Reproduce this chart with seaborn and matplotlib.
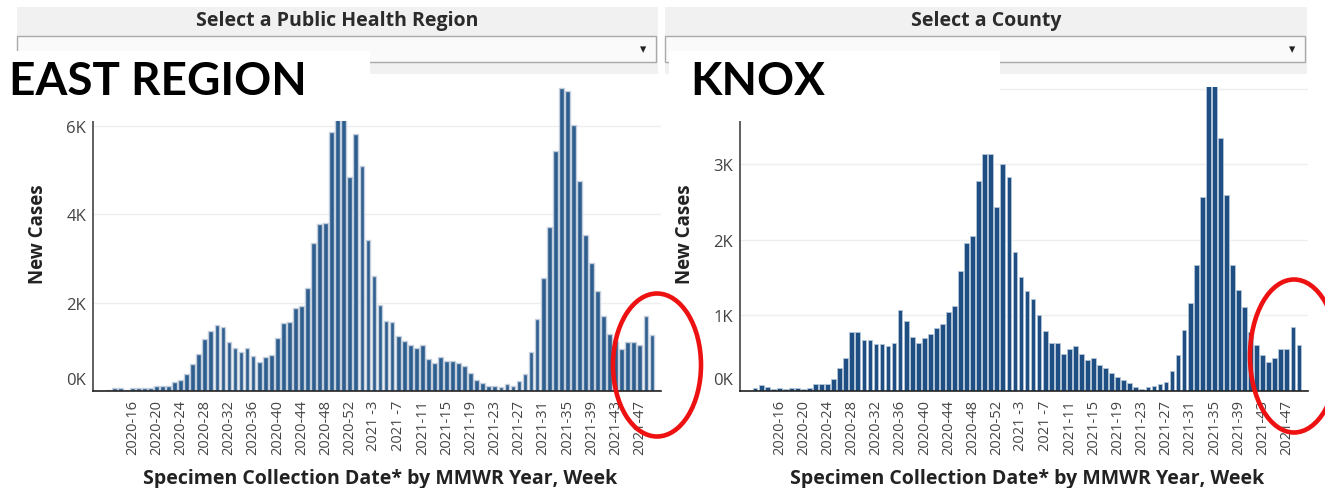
import matplotlib
matplotlib.use("Agg")
import matplotlib.pyplot as plt
import matplotlib.patches as mpatches
from matplotlib.ticker import FuncFormatter
from matplotlib.transforms import offset_copy
import pandas as pd
import seaborn as sns

# MMWR weeks 2020-10 .. 2021-50 (2020 has 53 weeks)
years = [2020] * 44 + [2021] * 50
weeks = list(range(10, 54)) + list(range(1, 51))

# weekly new cases
east_cases = [
    0, 10, 20, 70, 70, 20, 70, 70, 70, 70,
    110, 110, 110, 200, 250, 380, 600, 830, 1180, 1360,
    1500, 1450, 1100, 970, 880, 970, 800, 660, 770, 820,
    1200, 1540, 1570, 1880, 1930, 2320, 3340, 3770, 3800, 5860,
    6450, 6350, 4840, 5820, 5100, 3410, 2600, 1950, 1590, 1560,
    1240, 1120, 1030, 970, 1030, 730, 640, 780, 690, 690,
    630, 560, 400, 260, 170, 120, 120, 80, 160, 120,
    230, 390, 890, 1640, 2560, 3700, 5420, 6850, 6790, 6020,
    4740, 3520, 2890, 2260, 1700, 1300, 1140, 940, 1110, 1110,
    1030, 1700, 1270, 20,
]
knox_cases = [
    0, 0, 40, 80, 50, 20, 40, 20, 40, 40,
    20, 40, 90, 90, 90, 160, 310, 440, 780, 780,
    680, 680, 620, 620, 590, 640, 1070, 920, 720, 630,
    700, 760, 830, 890, 1040, 1130, 1590, 1960, 2050, 2780,
    3140, 3140, 2430, 3000, 2830, 1840, 1510, 1320, 1220, 1010,
    800, 630, 630, 490, 550, 590, 490, 410, 440, 350,
    310, 240, 190, 140, 100, 50, 30, 50, 70, 90,
    120, 260, 470, 810, 1160, 1660, 2570, 4350, 4300, 3350,
    2590, 1660, 1340, 1110, 780, 610, 470, 380, 430, 550,
    550, 840, 610, 10,
]

region_title = "EAST REGION"
county_title = "KNOX"


def week_label(y, w):
    return f"{y} -{w}" if w < 10 else f"{y}-{w}"


labels = [week_label(y, w) for y, w in zip(years, weeks)]
df = pd.DataFrame({"week": labels, "east": east_cases, "knox": knox_cases})

sns.set_style("white")
plt.rcParams["font.family"] = ["Open Sans", "DejaVu Sans"]

W, H = 1325, 489
fig = plt.figure(figsize=(W / 100, H / 100), dpi=100)


def px_axes(x0, y0, x1, y1, **kw):
    return fig.add_axes([x0 / W, 1 - y1 / H, (x1 - x0) / W, (y1 - y0) / H], **kw)


def draw_panel(ax, col, ymax, top_tick, step, face, edge, lw):
    sns.barplot(df, x="week", y=col, ax=ax, color=face, saturation=1,
                width=0.78, edgecolor=edge, linewidth=lw)
    ax.set_ylim(0, ymax)
    # the top gridline's label sits under the title box, so leave it unlabelled
    ax.set_yticks(range(0, top_tick + 1, step))
    for v in range(top_tick + step, int(ymax) + 1, step):
        ax.axhline(v, color="#eeeeee", lw=1, zorder=0)
    ax.yaxis.set_major_formatter(FuncFormatter(lambda v, _: f"{v / 1000:.0f}K"))
    ax.grid(axis="y", color="#eeeeee", lw=1)
    ax.set_axisbelow(True)
    shown = list(range(6, len(labels), 4))
    ax.set_xticks(shown)
    ax.set_xticklabels([labels[i] for i in shown], rotation=90,
                       fontsize=10.5, color="#444444")
    ax.tick_params(axis="y", labelsize=12, colors="#444444", length=3, pad=2)
    ax.tick_params(axis="x", length=3, pad=3, colors="#444444")
    # dashboard lifts the zero label clear of the baseline
    zero = ax.yaxis.get_major_ticks()[0].label1
    zero.set_transform(offset_copy(zero.get_transform(), fig=fig, y=13, units="dots"))
    for s in ("top", "right"):
        ax.spines[s].set_visible(False)
    ax.spines["left"].set_color("#444444")
    ax.spines["bottom"].set_color("#222222")
    ax.spines["left"].set_linewidth(1.2)
    ax.spines["bottom"].set_linewidth(1.2)
    ax.set_ylabel("New Cases", fontsize=13.5, fontweight="bold", color="#222222")
    ax.yaxis.label.set_va("center")
    ax.yaxis.set_label_coords(-0.097, 0.52)
    ax.set_xlabel("Specimen Collection Date* by MMWR Year, Week",
                  fontsize=14, fontweight="bold", color="#222222")
    ax.xaxis.label.set_va("center")
    ax.xaxis.set_label_coords(0.505, -0.285)


ax1 = px_axes(93, 88, 661, 392)
draw_panel(ax1, "east", 6878, 6000, 2000, "#2d5e8e", "#c3cfdc", 1.0)
ax2 = px_axes(740, 88, 1308, 392)
draw_panel(ax2, "knox", 4021, 3000, 1000, "#1f4f82", "#b5c6d8", 0.6)

# dashboard chrome drawn on top, in pixel coordinates
ov = fig.add_axes([0, 0, 1, 1], zorder=10)
ov.set_xlim(0, W)
ov.set_ylim(H, 0)
ov.axis("off")
ov.patch.set_alpha(0)

headers = [(17, 658, "Select a Public Health Region"), (665, 1307, "Select a County")]
for x0, x1, txt in headers:
    ov.add_patch(mpatches.Rectangle((x0, 8), x1 - x0, 67, fc="#f1f1f1", ec="none"))
    ov.add_patch(mpatches.Rectangle((x0, 37), x1 - x0 - 2, 26, fc="#fafafa",
                                    ec="#a9a9a9", lw=1))
    ov.text((x0 + x1) / 2, 21, txt, ha="center", va="center", fontsize=14,
            fontweight="bold", color="#2b2b2b")
    ov.text(x1 - 15, 50, "▾", ha="center", va="center", fontsize=9,
            color="#222222", family="DejaVu Sans")

title_font = ["Lato", "DejaVu Sans"]
ov.add_patch(mpatches.Rectangle((0, 52), 370, 70, fc="white", ec="none"))
ov.text(9, 82, region_title, ha="left", va="center", fontsize=33,
        fontweight="bold", color="black", family=title_font)
ov.add_patch(mpatches.Rectangle((669, 52), 331, 70, fc="white", ec="none"))
ov.text(690, 82, county_title, ha="left", va="center", fontsize=33,
        fontweight="bold", color="black", family=title_font)

ov.add_patch(mpatches.Ellipse((657, 366), 88, 143, fill=False, ec="#ee1111", lw=3.3))
ov.add_patch(mpatches.Ellipse((1294, 357), 88, 153, fill=False, ec="#ee1111", lw=3.3))

fig.savefig("out.png", dpi=100)
